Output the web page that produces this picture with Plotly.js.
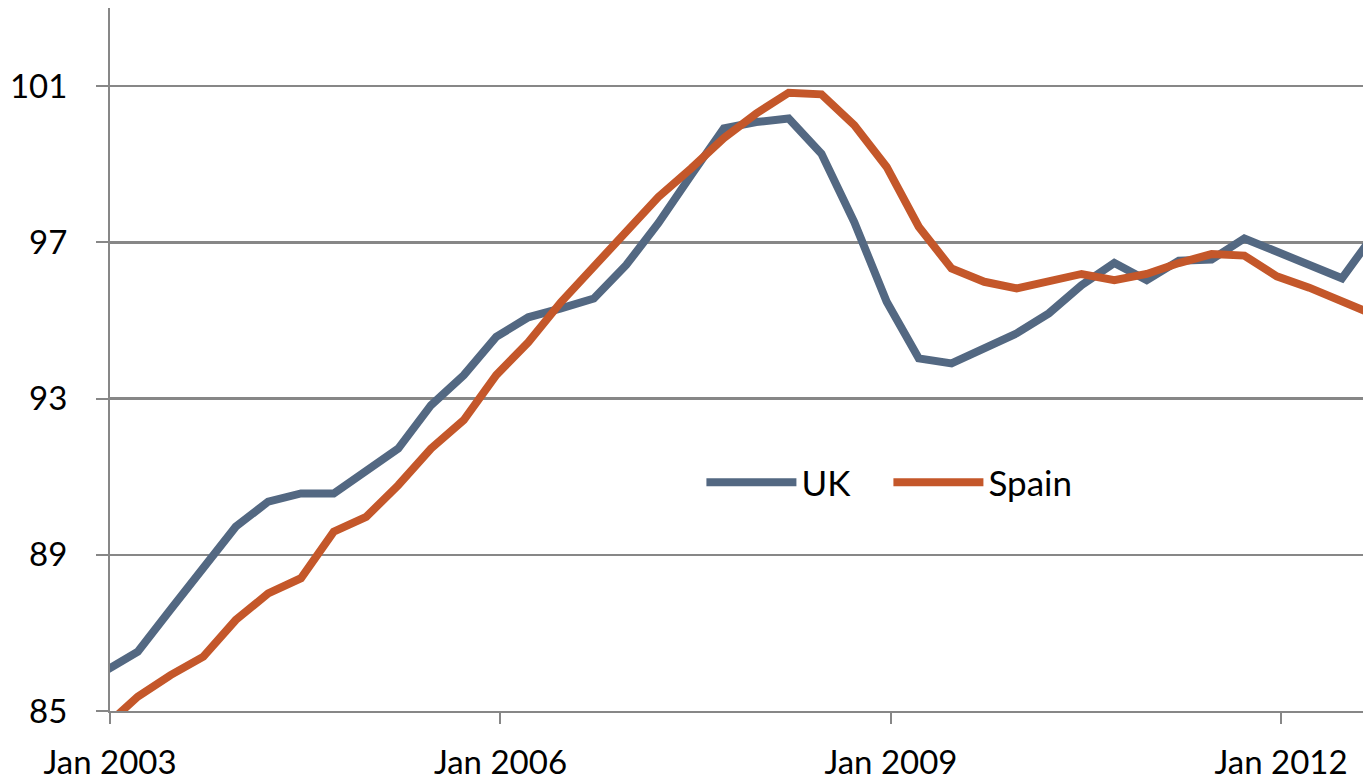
<!DOCTYPE html>
<html>
<head>
<meta charset="utf-8">
<script src="https://cdn.plot.ly/plotly-3.0.1.min.js"></script>
<style>
  html, body { margin: 0; padding: 0; background: #fff; }
  #plot { width: 1363px; height: 781px; }
</style>
</head>
<body>
<div id="plot"></div>
<script>
// quarterly observations (plotted a little before each quarter start, as in the source)
const dates = [
    '2002-12-20', '2003-03-20', '2003-06-20', '2003-09-20',
    '2003-12-20', '2004-03-20', '2004-06-20', '2004-09-20',
    '2004-12-20', '2005-03-20', '2005-06-20', '2005-09-20',
    '2005-12-20', '2006-03-20', '2006-06-20', '2006-09-20',
    '2006-12-20', '2007-03-20', '2007-06-20', '2007-09-20',
    '2007-12-20', '2008-03-20', '2008-06-20', '2008-09-20',
    '2008-12-20', '2009-03-20', '2009-06-20', '2009-09-20',
    '2009-12-20', '2010-03-20', '2010-06-20', '2010-09-20',
    '2010-12-20', '2011-03-20', '2011-06-20', '2011-09-20',
    '2011-12-20', '2012-03-20', '2012-06-20', '2012-09-20'
];

const uk = [
    86.03, 86.52, 87.60, 88.66, 89.72, 90.36, 90.57, 90.57,
    91.14, 91.72, 92.83, 93.60, 94.58, 95.08, 95.31, 95.56,
    96.42, 97.49, 98.72, 99.92, 100.08, 100.17, 99.27, 97.52,
    95.48, 94.03, 93.90, 94.28, 94.67, 95.18, 95.90, 96.47,
    96.03, 96.53, 96.56, 97.10, 96.76, 96.46, 96.08, 97.23
];

const spain = [
    84.62, 85.37, 85.92, 86.39, 87.33, 88.01, 88.40, 89.59,
    89.97, 90.78, 91.72, 92.45, 93.60, 94.44, 95.47, 96.37,
    97.31, 98.16, 98.89, 99.67, 100.30, 100.83, 100.79, 100.00,
    98.93, 97.40, 96.33, 95.99, 95.82, 95.99, 96.19, 96.03,
    96.19, 96.47, 96.70, 96.66, 96.13, 95.84, 95.48, 95.14
];

const yTicks = [85, 89, 93, 97, 101];

const GRID = '#878787';
const FONT = 'Lato, "Open Sans", sans-serif';

const traces = [
    {
        x: dates, y: uk, name: 'UK',
        mode: 'lines', type: 'scatter',
        line: { color: '#536882', width: 8 }
    },
    {
        x: dates, y: spain, name: 'Spain',
        mode: 'lines', type: 'scatter',
        line: { color: '#C4572A', width: 8 }
    }
];

const layout = {
    width: 1363,
    height: 781,
    margin: { l: 110, r: 0, t: 8, b: 70 },
    paper_bgcolor: '#fff',
    plot_bgcolor: '#fff',
    font: { family: FONT, size: 33, color: '#000' },
    showlegend: true,
    legend: {
        orientation: 'h',
        x: 0.472, y: 0.325,
        xanchor: 'left', yanchor: 'middle',
        itemwidth: 90,
        entrywidth: 82,
        font: { family: FONT, size: 35, color: '#000' },
        bgcolor: 'rgba(0,0,0,0)'
    },
    xaxis: {
        type: 'date',
        range: ['2003-01-01', '2012-08-18'],
        tick0: '2003-01-01',
        dtick: 'M36',
        tickformat: '%b %Y',
        showgrid: false,
        zeroline: false,
        showline: true,
        linecolor: GRID,
        linewidth: 2,
        ticks: 'outside',
        ticklen: 11,
        tickwidth: 2,
        tickcolor: GRID,
        ticklabelstandoff: 10,
        tickfont: { family: FONT, size: 33, color: '#000' }
    },
    yaxis: {
        range: [85, 103],
        tickvals: yTicks,
        ticktext: yTicks.map(String),
        showgrid: true,
        gridcolor: GRID,
        gridwidth: 2.5,
        zeroline: false,
        showline: true,
        linecolor: GRID,
        linewidth: 2,
        ticks: 'outside',
        ticklen: 12,
        tickwidth: 2,
        tickcolor: GRID,
        ticklabelstandoff: 22,
        tickfont: { family: FONT, size: 33, color: '#000' }
    }
};

Plotly.newPlot('plot', traces, layout, { staticPlot: true, displayModeBar: false });
</script>
</body>
</html>
